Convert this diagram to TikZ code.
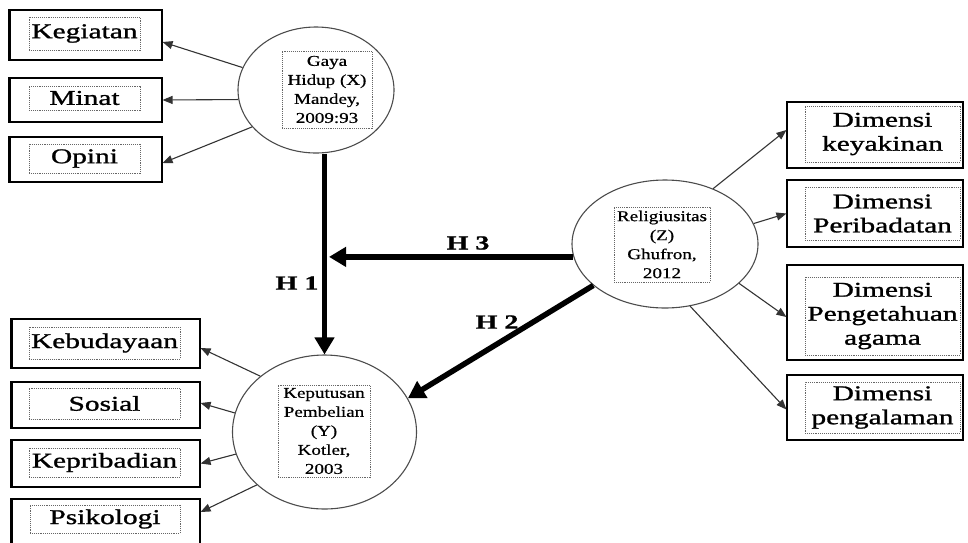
\documentclass[tikz,border=0pt]{standalone}
\usepackage{fontspec}
\setmainfont{Liberation Serif}
\newfontfamily\kotakfont[FakeStretch=1.4,FakeBold=1.2]{Liberation Serif}
\newfontfamily\elipsfont[FakeStretch=1.27,FakeBold=0.7]{Liberation Serif}
\newfontfamily\hfont[FakeStretch=1.4,FakeBold=1]{Liberation Serif Bold}
\usetikzlibrary{shapes.geometric,arrows.meta}

\begin{document}
\begin{tikzpicture}[x=1pt,y=-1pt,
    kotak/.style = {draw, line width=1.1pt, inner sep=0pt},
    isi/.style = {draw=black!60, densely dotted, line width=0.9pt, inner sep=0pt, align=center, font=\kotakfont\fontsize{21}{24}\selectfont},
    elips/.style = {ellipse, draw=black!70, line width=1.1pt, inner sep=0pt},
    isielips/.style = {draw=black!60, densely dotted, line width=0.9pt, inner sep=0pt, align=center, font=\elipsfont\fontsize{15}{19}\selectfont},
    panah/.style = {-{Triangle[length=10pt,width=8pt]}, line width=1.1pt, black!80},
    tebal/.style = {-{Triangle[length=17pt,width=19pt]}, line width=5.5pt},
    hlabel/.style = {inner sep=0pt, font=\hfont\fontsize{20}{24}\selectfont}]
            \clip (0,0) rectangle (968,542);

            % variabel
            \node[elips, minimum width=156pt, minimum height=126pt] (gaya) at (316,90) {};
            \node[isielips, minimum width=90pt, minimum height=77pt] (tgaya) at (327,89.5) {Gaya\\Hidup (X)\\Mandey,\\2009:93};
            \node[elips, minimum width=184pt, minimum height=154pt] (keputusan) at (324.5,432) {};
            \node[isielips, minimum width=92pt, minimum height=92pt] (tkeputusan) at (324,431) {Keputusan\\Pembelian\\(Y)\\Kotler,\\2003};
            \node[elips, minimum width=186pt, minimum height=128pt] (religi) at (665,244) {};
            \node[isielips, minimum width=96pt, minimum height=75pt] (treligi) at (662,244.5) {Religiusitas\\(Z)\\Ghufron,\\2012};

            % indikator gaya hidup
            \node[kotak, minimum width=152pt, minimum height=50pt] (kegiatan) at (86,35) {};
            \node[isi, minimum width=111pt, minimum height=33pt] (tkegiatan) at (84.5,33.5) {Kegiatan};
            \node[kotak, minimum width=152pt, minimum height=44pt] (minat) at (86,100) {};
            \node[isi, minimum width=111pt, minimum height=24pt] (tminat) at (84.5,98) {Minat};
            \node[kotak, minimum width=152pt, minimum height=45pt] (opini) at (86,159.5) {};
            \node[isi, minimum width=111pt, minimum height=29pt] (topini) at (84.5,158.5) {Opini};

            % indikator keputusan pembelian
            \node[kotak, minimum width=188pt, minimum height=49pt] (kebudayaan) at (106,343.5) {};
            \node[isi, minimum width=151pt, minimum height=32pt] (tkebudayaan) at (104.5,343) {Kebudayaan};
            \node[kotak, minimum width=188pt, minimum height=46pt] (sosial) at (106,405) {};
            \node[isi, minimum width=151pt, minimum height=31pt] (tsosial) at (104.5,403.5) {Sosial};
            \node[kotak, minimum width=188pt, minimum height=47pt] (kepribadian) at (106,463.5) {};
            \node[isi, minimum width=151pt, minimum height=29pt] (tkepribadian) at (104.5,462.5) {Kepribadian};
            \node[kotak, minimum width=188pt, minimum height=50pt] (psikologi) at (106,524) {};
            \node[isi, minimum width=150pt, minimum height=28pt] (tpsikologi) at (105,519) {Psikologi};

            \draw[line width=2.6pt] (kegiatan.north west) -- (kegiatan.south west);
            \draw[line width=2.6pt] (minat.north west) -- (minat.south west);
            \draw[line width=2.6pt] (opini.north west) -- (opini.south west);
            \draw[line width=2.6pt] (kebudayaan.north west) -- (kebudayaan.south west);
            \draw[line width=2.6pt] (sosial.north west) -- (sosial.south west);
            \draw[line width=2.6pt] (kepribadian.north west) -- (kepribadian.south west);
            \draw[line width=2.6pt] (psikologi.north west) -- (psikologi.south west);

            % indikator religiusitas
            \node[kotak, minimum width=176pt, minimum height=66pt] (keyakinan) at (875,135) {};
            \node[isi, minimum width=155pt, minimum height=56pt] (tkeyakinan) at (882.5,134) {Dimensi\\keyakinan};
            \node[kotak, minimum width=176pt, minimum height=67pt] (peribadatan) at (875,213.5) {};
            \node[isi, minimum width=155pt, minimum height=53pt] (tperibadatan) at (882.5,213.5) {Dimensi\\Peribadatan};
            \node[kotak, minimum width=176pt, minimum height=95pt] (pengetahuan) at (875,312.5) {};
            \node[isi, minimum width=155pt, minimum height=78pt] (tpengetahuan) at (882.5,316) {Dimensi\\Pengetahuan\\agama};
            \node[kotak, minimum width=176pt, minimum height=65pt] (pengalaman) at (875,407.5) {};
            \node[isi, minimum width=155pt, minimum height=51pt] (tpengalaman) at (882.5,407.5) {Dimensi\\pengalaman};

            % panah indikator
            \draw[panah] (gaya.163) -- ([yshift=-7pt]kegiatan.east);
            \draw[panah] (gaya.187) -- (minat.east);
            \draw[panah] (gaya.210) -- ([yshift=-3.5pt]opini.east);

            \draw[panah] (keputusan.139) -- ([yshift=-4.5pt]kebudayaan.east);
            \draw[panah] (keputusan.168) -- ([yshift=2pt]sosial.east);
            \draw[panah] (keputusan.194) -- (kepribadian.east);
            \draw[panah] (keputusan.218) -- ([yshift=12pt]psikologi.east);

            \draw[panah] (religi.49) -- ([yshift=5pt]keyakinan.west);
            \draw[panah] (religi.13) -- (peribadatan.west);
            \draw[panah] (religi.-28) -- ([yshift=-4.5pt]pengetahuan.west);
            \draw[panah] (religi.-68) -- ([yshift=-2pt]pengalaman.west);

            % hipotesis
            \coordinate (h3ujung) at (329,257);
            \draw[tebal] (gaya.south -| keputusan.north) -- (keputusan.north);
            \draw[tebal] (religi.188) -- (religi.188 -| h3ujung);
            \draw[tebal] (religi.210) -- (keputusan.22);

            \node[hlabel] (h1) at (297,283) {H 1};
            \node[hlabel] (h3) at (468,243) {H 3};
            \node[hlabel] (h2) at (497,322) {H 2};

        \end{tikzpicture}
\end{document}
